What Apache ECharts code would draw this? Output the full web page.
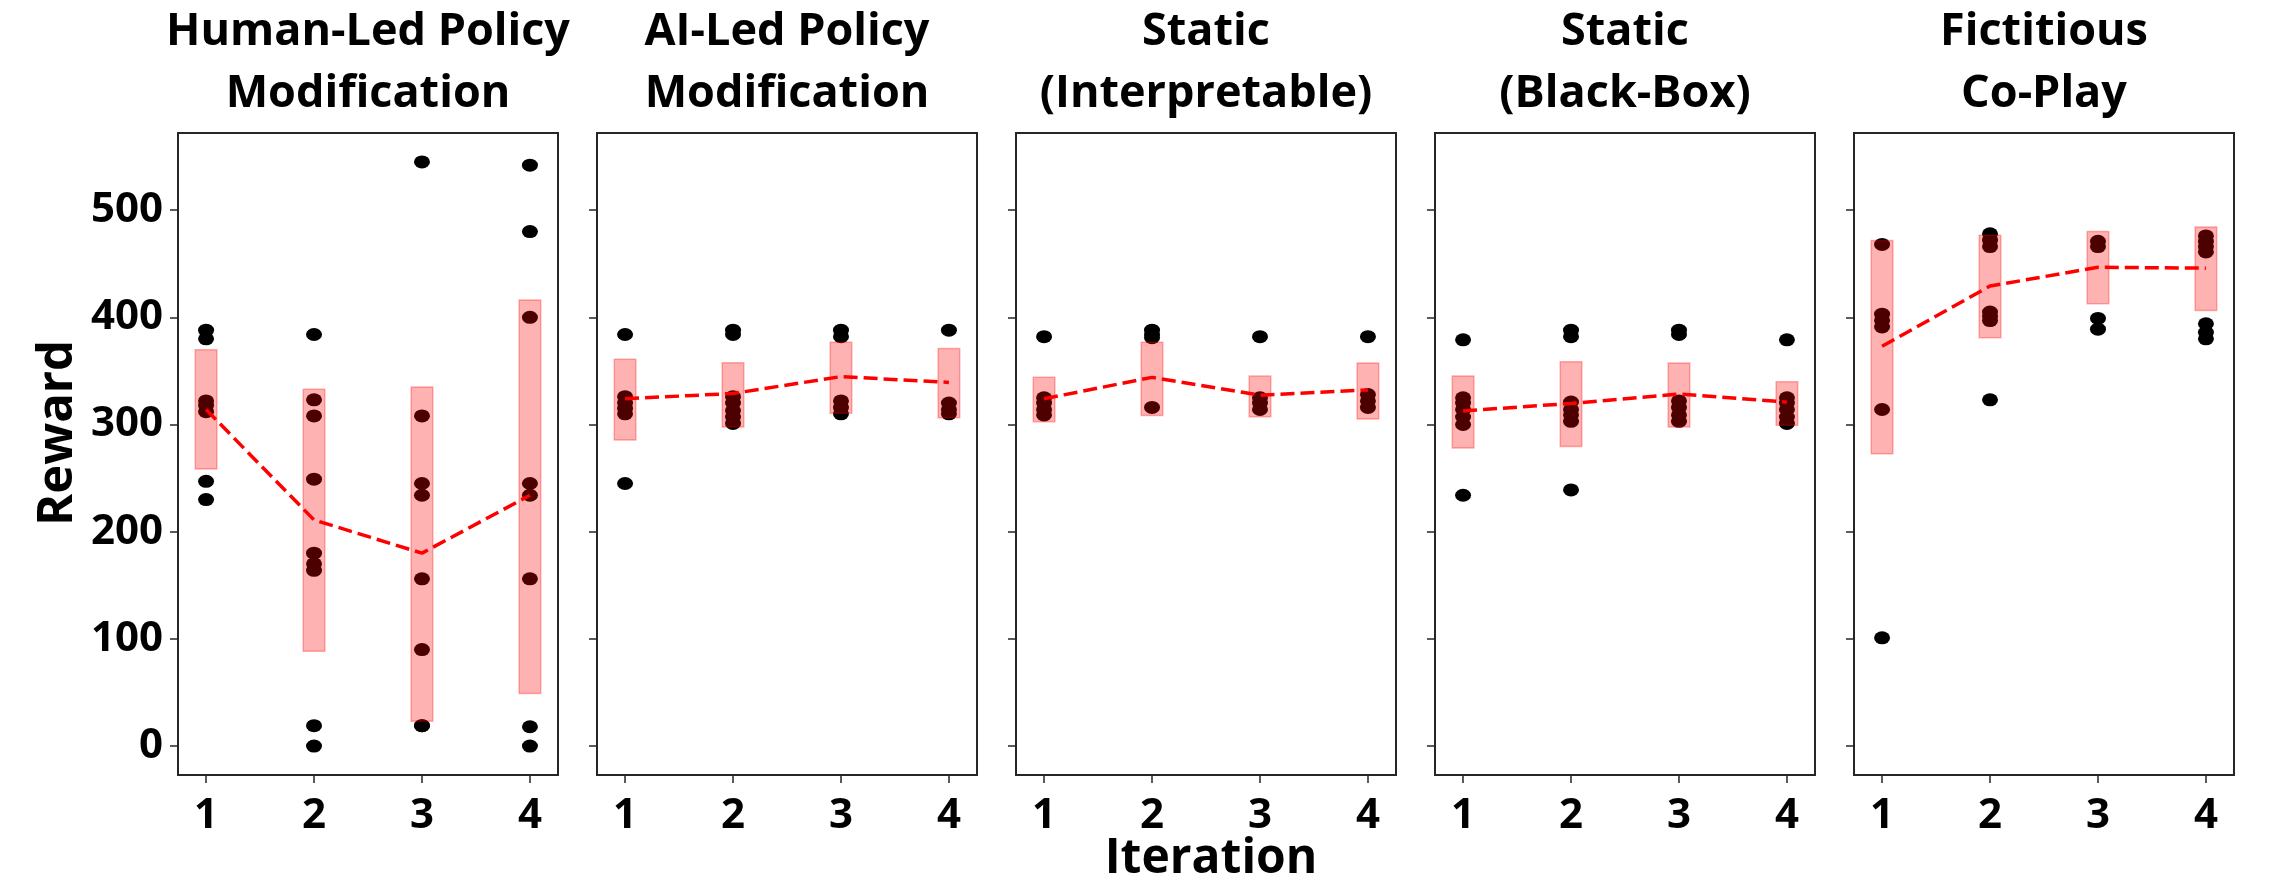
<!DOCTYPE html>
<html><head><meta charset="utf-8">
<script src="https://cdn.jsdelivr.net/npm/echarts@6/dist/echarts.min.js"></script>
<style>html,body{margin:0;padding:0;background:#fff}#c{width:2283px;height:894px}</style>
</head><body><div id="c"></div>
<script>
// ---------- data ----------
const iterations = [1, 2, 3, 4];
const yTickValues = [0, 100, 200, 300, 400, 500];
const panelTitles = [
  'Human-Led Policy\nModification',
  'AI-Led Policy\nModification',
  'Static\n(Interpretable)',
  'Static\n(Black-Box)',
  'Fictitious\nCo-Play'
];

// individual rewards per iteration
const humanLedPoints = [
  [388, 380, 322, 318, 312, 247, 230],
  [384, 323, 308, 249, 180, 170, 164, 19, 0],
  [545, 308, 245, 234, 156, 90, 19, 19],
  [542, 480, 400, 245, 234, 156, 18, 0]
];
const humanLedMean = [314, 211, 180, 234];
const humanLedLow  = [258.5, 88.5, 23.2, 49];
const humanLedHigh = [369.7, 333, 335, 416.3];

const aiLedPoints = [
  [384, 326, 320, 315, 310, 245],
  [388, 384, 326, 320, 313, 307, 301],
  [388, 382, 322, 316, 310],
  [388, 320, 314, 310]
];
const aiLedMean = [324, 329, 344.7, 339.3];
const aiLedLow  = [285.6, 297.7, 310.6, 306.4];
const aiLedHigh = [361, 357.6, 376.8, 370.9];

const staticInterpPoints = [
  [382, 325, 320, 314, 309],
  [388, 384, 381, 316],
  [382, 325, 320, 314],
  [382, 328, 322, 316]
];
const staticInterpMean = [324, 344, 327.4, 332.3];
const staticInterpLow  = [302.6, 308.5, 307.3, 305.2];
const staticInterpHigh = [344, 376.8, 345.2, 357.3];

const staticBlackBoxPoints = [
  [379, 325, 320, 314, 307, 300, 234],
  [388, 382, 321, 314, 309, 303, 239],
  [388, 384, 322, 316, 309, 303],
  [379, 325, 320, 314, 307, 301]
];
const staticBlackBoxMean = [312.7, 319.7, 328.5, 320.9];
const staticBlackBoxLow  = [278.2, 279.4, 297.7, 299.4];
const staticBlackBoxHigh = [345.2, 358.5, 357.3, 339.8];

const fictitiousPoints = [
  [468, 403, 397, 391, 314, 101],
  [478, 472, 466, 405, 401, 397, 323],
  [471, 466, 399, 389],
  [476, 471, 466, 461, 394, 386, 380]
];
const fictitiousMean = [373, 429.2, 446.7, 445.9];
const fictitiousLow  = [272.7, 380.9, 412.6, 406.3];
const fictitiousHigh = [471.7, 476.7, 480, 484.2];

const panels = [
  [humanLedPoints, humanLedMean, humanLedLow, humanLedHigh],
  [aiLedPoints, aiLedMean, aiLedLow, aiLedHigh],
  [staticInterpPoints, staticInterpMean, staticInterpLow, staticInterpHigh],
  [staticBlackBoxPoints, staticBlackBoxMean, staticBlackBoxLow, staticBlackBoxHigh],
  [fictitiousPoints, fictitiousMean, fictitiousLow, fictitiousHigh]
];

// ---------- layout ----------
const GRID_LEFT0 = 178, GRID_STEP = 419, GRID_W = 380, GRID_TOP = 133, GRID_H = 642;
const BAR_HALF = 0.1;
const FONT = 'Open Sans';
const TICK_FONT = {fontFamily: FONT, fontWeight: 'bold', fontSize: 42, color: '#000'};
const AXIS_COLOR = '#262626';

const chart = echarts.init(document.getElementById('c'), null, {renderer: 'canvas'});

const grids = [], xAxes = [], yAxes = [], titles = [], series = [];
panels.forEach((p, i) => {
  const [pts, mean, low, high] = p;
  const left = GRID_LEFT0 + GRID_STEP * i;
  grids.push({left: left, top: GRID_TOP, width: GRID_W, height: GRID_H,
    show: true, borderColor: AXIS_COLOR, borderWidth: 2, backgroundColor: '#fff', containLabel: false});
  xAxes.push({
    type: 'value', gridIndex: i, min: 0.74, max: 4.26, position: 'bottom',
    axisLine: {show: false, onZero: false},
    axisTick: {show: true, length: 8, lineStyle: {color: AXIS_COLOR, width: 1.5}, customValues: iterations},
    axisLabel: Object.assign({show: true, margin: 20, customValues: iterations}, TICK_FONT),
    splitLine: {show: false}
  });
  yAxes.push({
    type: 'value', gridIndex: i, min: -27, max: 572, position: 'left',
    axisLine: {show: false, onZero: false},
    axisTick: {show: true, length: 8, lineStyle: {color: AXIS_COLOR, width: 1.5}, customValues: yTickValues},
    axisLabel: Object.assign({show: i === 0, margin: 15, customValues: yTickValues}, TICK_FONT),
    splitLine: {show: false}
  });
  titles.push({
    text: panelTitles[i], left: left + GRID_W / 2, top: 1, padding: 0, textAlign: 'center',
    textStyle: {fontFamily: FONT, fontWeight: 'bold', fontSize: 45, lineHeight: 62, color: '#000'}
  });
  const scatterData = [];
  pts.forEach((arr, k) => arr.forEach(v => scatterData.push([iterations[k], v])));
  series.push({
    type: 'scatter', xAxisIndex: i, yAxisIndex: i, z: 2, symbol: 'circle', symbolSize: [16, 13],
    itemStyle: {color: '#000', opacity: 1}, data: scatterData, silent: true
  });
  series.push({
    type: 'custom', xAxisIndex: i, yAxisIndex: i, z: 3, silent: true,
    data: iterations.map((it, k) => [it, low[k], high[k]]),
    encode: {x: 0, y: [1, 2]},
    renderItem: function (params, api) {
      const x = api.value(0), lo = api.value(1), hi = api.value(2);
      const a = api.coord([x - BAR_HALF, hi]);
      const b = api.coord([x + BAR_HALF, lo]);
      return {type: 'rect', shape: {x: a[0], y: a[1], width: b[0] - a[0], height: b[1] - a[1]},
        style: {fill: 'rgba(255,0,0,0.3)', stroke: 'rgba(255,0,0,0.3)', lineWidth: 1.5}};
    }
  });
  series.push({
    type: 'line', xAxisIndex: i, yAxisIndex: i, z: 4, symbol: 'none', silent: true,
    lineStyle: {color: '#ff0000', width: 3.5, type: [14, 6]},
    data: iterations.map((it, k) => [it, mean[k]])
  });
});

chart.setOption({
  animation: false,
  backgroundColor: '#fff',
  title: titles,
  grid: grids,
  xAxis: xAxes,
  yAxis: yAxes,
  series: series,
  graphic: [
    {type: 'text', x: 58, y: 433, rotation: Math.PI / 2,
      style: {text: 'Reward', fontFamily: FONT, fontWeight: 'bold', fontSize: 49, fill: '#000', align: 'center', verticalAlign: 'middle'}},
    {type: 'text', x: 1211, y: 859,
      style: {text: 'Iteration', fontFamily: FONT, fontWeight: 'bold', fontSize: 48, fill: '#000', align: 'center', verticalAlign: 'middle'}}
  ]
});
</script></body></html>
